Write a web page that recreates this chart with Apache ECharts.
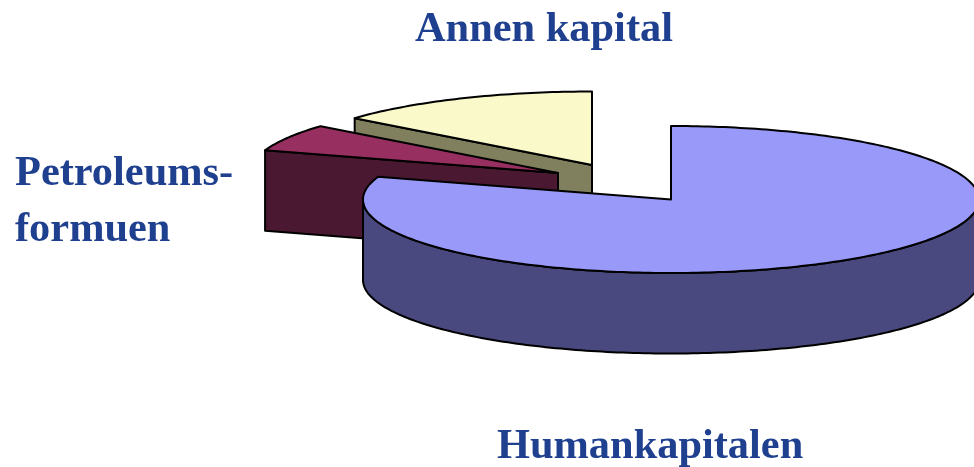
<!DOCTYPE html>
<html>
<head>
<meta charset="utf-8">
<style>
  html, body { margin: 0; padding: 0; background: #ffffff; }
  #chart { width: 974px; height: 467px; }
</style>
<script src="https://cdn.jsdelivr.net/npm/echarts@6/dist/echarts.min.js"></script>
</head>
<body>
<div id="chart"></div>
<script>
// clockwise from twelve o'clock
const categories = ['Humankapitalen', 'Petroleums-\nformuen', 'Annen kapital'];
const shares = [80, 6, 14];

// look of the tilted pie
const center = [671, 199.5];
const rx = 308;
const ry = 73.5;
const depth = 80.5;
const topColors = ['#9999f9', '#972f60', '#f9f9c9'];
const sideColors = ['#49497f', '#4a1830', '#80805f'];
const sliceShift = [[0, 0], [-113, -26.5], [-79, -34.5]];
const labelPos = [[497, 475], [15, 258], [415, 58]];

const total = shares.reduce((a, b) => a + b, 0);

function rim(c, deg) {
  const t = deg * Math.PI / 180;
  return [c[0] + rx * Math.sin(t), c[1] - ry * Math.cos(t)];
}

function arcPoints(c, from, to) {
  const pts = [];
  const step = from < to ? 1 : -1;
  for (let d = from; step > 0 ? d < to : d > to; d += step) {
    pts.push(rim(c, d));
  }
  pts.push(rim(c, to));
  return pts;
}

const drop = (pts) => pts.map((p) => [p[0], p[1] + depth]);

function renderSlice(params, api) {
  const i = api.value(0);
  const start = shares.slice(0, i).reduce((a, b) => a + b, 0) / total * 360;
  const end = start + api.value(1) / total * 360;
  const c = [center[0] + sliceShift[i][0], center[1] + sliceShift[i][1]];
  const line = { stroke: '#000000', lineWidth: 2, lineJoin: 'round' };
  const children = [];

  // outer wall only shows on the front half of the big slice
  if (start < 90 && end > 270) {
    const edge = arcPoints(c, 90, 270);
    children.push({
      type: 'polygon',
      shape: { points: edge.concat(drop(edge).reverse()) },
      style: Object.assign({ fill: sideColors[i] }, line)
    });
  } else {
    // cut wall on the starting radius
    const cut = [rim(c, start), c];
    children.push({
      type: 'polygon',
      shape: { points: cut.concat(drop(cut).reverse()) },
      style: Object.assign({ fill: sideColors[i] }, line)
    });
  }

  children.push({
    type: 'polygon',
    shape: { points: [c].concat(arcPoints(c, start, end)) },
    style: Object.assign({ fill: topColors[i] }, line)
  });

  children.push({
    type: 'text',
    x: labelPos[i][0],
    y: labelPos[i][1],
    style: {
      text: categories[i],
      fill: '#1f3f8f',
      font: 'bold 42.4px "Liberation Serif"',
      lineHeight: 56,
      textAlign: 'left',
      textVerticalAlign: 'bottom'
    }
  });

  return { type: 'group', children: children };
}

const chart = echarts.init(document.getElementById('chart'));

chart.setOption({
  animation: false,
  backgroundColor: '#ffffff',
  series: [
    {
      type: 'custom',
      coordinateSystem: 'none',
      renderItem: renderSlice,
      // painted back to front
      data: [[2, shares[2]], [1, shares[1]], [0, shares[0]]]
    }
  ]
});
</script>
</body>
</html>
